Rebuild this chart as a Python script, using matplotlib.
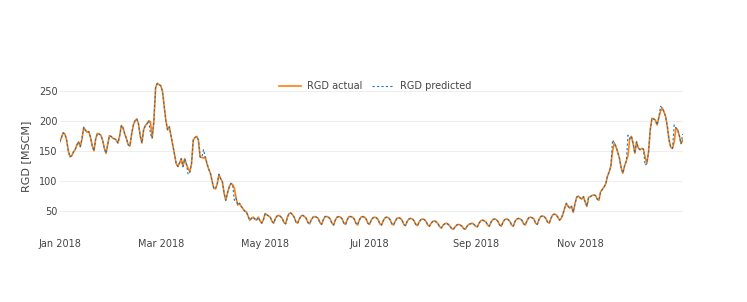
import matplotlib
matplotlib.use('Agg')
import matplotlib.pyplot as plt
import matplotlib.dates as mdates
import numpy as np
import pandas as pd

# daily RGD values for 2018, one list per month
jan = [165, 172, 180, 178, 168, 150, 140, 142, 148, 152, 160, 165, 157, 170, 189, 184,
       181, 182, 172, 158, 150, 170, 179, 178, 176, 168, 155, 146, 160, 175, 174]
feb = [171, 170, 168, 163, 175, 192, 188, 178, 170, 160, 158, 178, 193, 200, 203, 195,
       175, 163, 185, 192, 195, 200, 198, 171, 200, 255, 262, 260]
mar = [258, 249, 225, 200, 185, 190, 175, 160, 145, 129, 124, 130, 137, 124, 137, 128,
       121, 115, 129, 168, 172, 174, 168, 140, 139, 138, 140, 129, 120, 113, 100]
apr = [88, 87, 95, 111, 104, 99, 80, 68, 80, 90, 96, 94, 88, 72, 60, 63,
       58, 54, 50, 49, 42, 35, 38, 40, 37, 35, 40, 34, 30, 36]
may = [46, 44, 42, 40, 33, 30, 38, 42, 43, 41, 38, 31, 29, 40, 46, 47,
       44, 40, 32, 30, 37, 42, 43, 41, 38, 31, 29, 36, 40, 41, 40]
jun = [38, 31, 28, 36, 41, 41, 40, 37, 30, 27, 35, 40, 41, 40, 37, 30,
       28, 36, 41, 41, 40, 37, 30, 27, 35, 40, 41, 40, 37, 30]
jul = [28, 35, 39, 40, 39, 36, 29, 27, 34, 39, 40, 39, 36, 29, 27, 33,
       38, 39, 38, 35, 28, 26, 33, 37, 38, 37, 34, 28, 26, 32, 36]
aug = [37, 36, 33, 27, 25, 30, 33, 34, 32, 29, 24, 22, 27, 29, 30, 28,
       25, 21, 20, 24, 27, 28, 27, 25, 21, 20, 25, 28, 29, 30, 28]
sep = [25, 24, 30, 34, 35, 34, 32, 27, 25, 32, 36, 37, 36, 33, 27, 25,
       32, 36, 37, 36, 33, 27, 25, 33, 37, 38, 37, 35, 29, 27]
oct_ = [34, 39, 40, 39, 37, 30, 28, 36, 41, 42, 41, 38, 32, 30, 38, 44,
        45, 44, 40, 35, 38, 45, 55, 63, 58, 55, 58, 48, 62, 73, 75]
nov = [72, 70, 74, 65, 58, 73, 74, 76, 77, 76, 70, 68, 82, 86, 90, 95,
       108, 115, 125, 150, 163, 157, 148, 138, 122, 113, 125, 133, 142, 170]
dec = [174, 162, 146, 165, 155, 152, 154, 153, 140, 129, 148, 185, 204, 203, 201, 193,
       205, 216, 221, 215, 207, 190, 168, 156, 154, 165, 188, 185, 175, 162, 168]

actual = jan + feb + mar + apr + may + jun + jul + aug + sep + oct_ + nov + dec
dates = pd.date_range('2018-01-01', periods=len(actual), freq='D')

# predicted follows actual except on the days where it visibly departs
pred_overrides = {'2018-02-23': 178, '2018-03-17': 111, '2018-03-26': 152,
                  '2018-04-13': 68, '2018-11-20': 168, '2018-11-29': 176,
                  '2018-12-09': 126, '2018-12-18': 224, '2018-12-26': 193,
                  '2018-12-31': 178}
predicted = pd.Series(actual, index=dates, dtype=float)
for day, val in pred_overrides.items():
    predicted[pd.Timestamp(day)] = val

fig = plt.figure(figsize=(7.47, 3.02), dpi=100)
ax = fig.add_axes([0.080, 0.235, 0.834, 0.497])

ax.plot(dates, actual, color='#ff7f0e', lw=1.2, label='RGD actual')
ax.plot(dates, predicted.values, color='#1f77b4', lw=0.8, ls=(0, (2, 2)),
        label='RGD predicted')

ax.set_xlim(dates[0], dates[-1])
ax.set_ylim(17, 266)
ax.set_yticks([50, 100, 150, 200, 250])
ax.xaxis.set_major_locator(mdates.MonthLocator(bymonth=[1, 3, 5, 7, 9, 11]))
ax.xaxis.set_major_formatter(mdates.DateFormatter('%b %Y'))

ax.grid(axis='y', color='#eeeeee', lw=0.8)
ax.set_axisbelow(True)
for s in ax.spines.values():
    s.set_visible(False)
ax.tick_params(axis='y', length=0, labelsize=7, colors='#444444', pad=1.5)
ax.tick_params(axis='x', length=0, labelsize=7, colors='#444444', pad=5.5)
ax.set_ylabel('RGD [MSCM]', fontsize=8, color='#444444', labelpad=6)

fig.legend(loc='center', bbox_to_anchor=(0.502, 0.715), ncol=2, frameon=False,
           fontsize=7, handlelength=2.3, columnspacing=1.0, handletextpad=0.6,
           labelcolor='#444444')

fig.savefig('out.png', dpi=100)
